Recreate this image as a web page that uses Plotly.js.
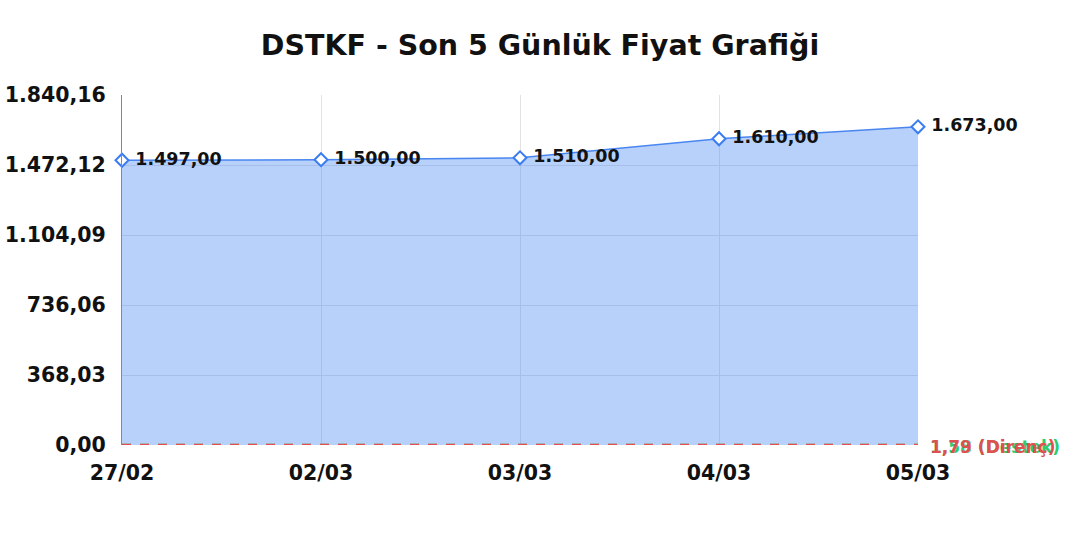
<!DOCTYPE html>
<html>
<head>
<meta charset="utf-8">
<script src="https://cdn.plot.ly/plotly-3.0.1.min.js"></script>
<style>
  html, body { margin: 0; padding: 0; background: #ffffff; }
  #chart { width: 1080px; height: 540px; }
</style>
</head>
<body>
<div id="chart"></div>
<script>
// veri
const dates = ['27/02', '02/03', '03/03', '04/03', '05/03'];
const prices = [1497, 1500, 1510, 1610, 1673];
const priceLabels = ['1.497,00', '1.500,00', '1.510,00', '1.610,00', '1.673,00'];
const yTickVals = [0, 368.032, 736.064, 1104.096, 1472.128, 1840.16];
const yTickText = ['0,00', '368,03', '736,06', '1.104,09', '1.472,12', '1.840,16'];
const supportLevel = 1.58;
const resistanceLevel = 1.79;
const supportLabel = '1,58 (Destek)';
const resistanceLabel = '1,79 (Direnç)';

const xIdx = dates.map((d, i) => i);
const FONT = 'DejaVu Sans, sans-serif';

const priceTrace = {
    x: xIdx,
    y: prices,
    text: priceLabels.map(t => '\u00a0' + t),
    mode: 'lines+markers+text',
    type: 'scatter',
    fill: 'tozeroy',
    // yarı saydam dolgu: ızgara çizgileri altından görünsün
    fillcolor: 'rgba(66, 133, 244, 0.38)',
    line: { color: '#4a86f0', width: 1.5 },
    marker: {
        symbol: 'diamond',
        size: 10,
        color: '#ffffff',
        line: { width: 2, color: '#3b7cf0' },
    },
    textposition: 'middle right',
    textfont: { family: FONT, size: 17.5, color: '#111111', weight: 'bold' },
    cliponaxis: false,
    hoverinfo: 'none',
};

const supportTrace = {
    x: [0, dates.length - 1],
    y: [supportLevel, supportLevel],
    mode: 'lines',
    type: 'scatter',
    line: { color: '#2ecc71', width: 2, dash: 'dash' },
    hoverinfo: 'none',
};

const resistanceTrace = {
    x: [0, dates.length - 1],
    y: [resistanceLevel, resistanceLevel],
    mode: 'lines',
    type: 'scatter',
    line: { color: '#e05050', width: 2, dash: 'dash' },
    hoverinfo: 'none',
};

const layout = {
    width: 1080,
    height: 540,
    showlegend: false,
    paper_bgcolor: '#ffffff',
    plot_bgcolor: '#ffffff',
    title: {
        text: '<b>DSTKF - Son 5 Günlük Fiyat Grafiği</b>',
        font: { family: FONT, size: 28.5, color: '#111111' },
        x: 0.5,
        xanchor: 'center',
        y: 0.917,
        yanchor: 'middle',
    },
    margin: { l: 122, r: 162, t: 95, b: 95 },
    xaxis: {
        range: [0, dates.length - 1],
        tickvals: xIdx,
        ticktext: dates,
        tickfont: { family: FONT, size: 20.5, color: '#111111', weight: 'bold' },
        showgrid: true,
        gridcolor: '#e2e2e2',
        zeroline: false,
        showline: false,
        ticks: 'outside',
        ticklen: 9,
        tickcolor: 'rgba(0,0,0,0)',
        fixedrange: true,
    },
    yaxis: {
        range: [0, 1840.16],
        tickvals: yTickVals,
        ticktext: yTickText,
        tickfont: { family: FONT, size: 20.5, color: '#111111', weight: 'bold' },
        showgrid: true,
        gridcolor: '#e2e2e2',
        zeroline: false,
        showline: true,
        linecolor: '#888888',
        linewidth: 1,
        ticks: 'outside',
        ticklen: 11,
        tickcolor: 'rgba(0,0,0,0)',
        fixedrange: true,
    },
    annotations: [
        {
            x: dates.length - 1,
            y: supportLevel,
            xref: 'x',
            yref: 'y',
            text: '<b>' + supportLabel + '</b>',
            showarrow: false,
            xanchor: 'left',
            yanchor: 'middle',
            xshift: 10,
            yshift: -2,
            font: { family: FONT, size: 17, color: '#2ecc71' },
        },
        {
            x: dates.length - 1,
            y: resistanceLevel,
            xref: 'x',
            yref: 'y',
            text: '<b>' + resistanceLabel + '</b>',
            showarrow: false,
            xanchor: 'left',
            yanchor: 'middle',
            xshift: 10,
            yshift: -2,
            font: { family: FONT, size: 17, color: '#e05050' },
        },
    ],
};

Plotly.newPlot('chart', [priceTrace, supportTrace, resistanceTrace], layout, {
    displayModeBar: false,
    staticPlot: true,
});
</script>
</body>
</html>
